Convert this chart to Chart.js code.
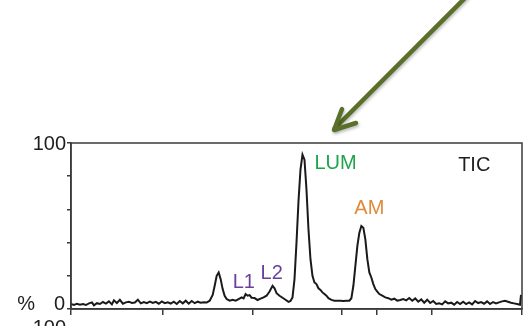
<!DOCTYPE html>
<html>
<head>
<meta charset="utf-8">
<script src="https://cdn.jsdelivr.net/npm/chart.js@4.4.1/dist/chart.umd.min.js"></script>
<style>
  body { margin: 0; background: #fff; }
</style>
</head>
<body>
<canvas id="tic" width="528" height="326"></canvas>
<script>
// retention axis (arbitrary units)
const rt = [
  0, 3, 6, 9, 12, 15, 18, 21, 23, 26, 29, 32, 35, 38, 41, 43, 46, 49, 52, 55,
  58, 61, 64, 67, 70, 73, 76, 79, 82, 85, 88, 91, 94, 97, 100, 103, 106, 109, 112, 115,
  118, 121, 124, 127, 130, 133, 136, 139, 142, 144, 146, 148, 150, 152, 154, 156, 159, 162, 165, 168,
  171, 173, 175, 177, 179, 181, 184, 187, 190, 193, 196, 199, 202, 204, 206, 209, 212, 215, 218, 220,
  222, 224, 226, 228, 230, 232, 234, 236, 238, 240, 242, 244, 246, 248, 250, 252, 254, 256, 258, 261,
  264, 267, 270, 273, 276, 279, 281, 283, 285, 287, 289, 291, 293, 295, 297, 299, 301, 303, 305, 307,
  309, 312, 315, 318, 321, 324, 327, 330, 333, 336, 339, 342, 345, 348, 351, 354, 357, 360, 363, 366,
  369, 372, 375, 378, 381, 384, 387, 390, 393, 396, 399, 402, 405, 408, 411, 414, 417, 420, 423, 426,
  429, 432, 435, 438, 441, 444, 447, 450, 451
]
// relative intensity, %
const intensity = [
  3.0, 2.5, 3.2, 2.6, 3.0, 2.4, 3.4, 4.0, 2.2, 3.5, 3.0, 4.2, 3.3, 4.6, 2.8, 5.2, 3.6, 5.5, 3.2, 4.0,
  4.4, 3.6, 3.9, 5.6, 3.4, 4.2, 3.5, 4.4, 3.6, 4.3, 3.2, 4.6, 3.5, 4.0, 3.3, 4.4, 3.0, 4.8, 3.4, 5.0,
  3.2, 4.8, 3.5, 4.4, 3.8, 4.0, 3.9, 5.0, 8.5, 14, 20, 22, 18, 12, 8, 6, 5.0, 5.6, 5.0, 6.0,
  7.0, 6.4, 9.0, 8.0, 8.4, 6.8, 6.6, 5.4, 6.2, 7.0, 8.0, 10.5, 14.0, 12.5, 9.5, 8.0, 6.8, 5.6, 4.3, 4.8,
  7.0, 18, 40, 65, 84, 93, 90, 72, 48, 30, 20, 16, 15, 12.5, 11.5, 10, 9, 8, 6.5, 5.5,
  5.0, 5.0, 5.0, 4.8, 5.0, 5.0, 6.5, 14, 26, 38, 46, 50, 49, 42, 30, 22, 19, 15, 12, 10.5,
  9, 8, 7, 6.5, 5.6, 6.2, 5.0, 5.4, 6.0, 5.2, 6.6, 5.0, 6.4, 4.4, 5.8, 3.8, 5.6, 3.6, 4.8, 3.0,
  3.4, 2.8, 4.6, 3.4, 3.8, 2.6, 4.2, 3.0, 4.4, 3.0, 4.0, 2.8, 4.8, 3.6, 4.2, 3.2, 4.6, 3.0, 4.2, 3.4,
  4.0, 4.6, 5.0, 4.4, 3.8, 3.4, 3.0, 2.6, 8.5
]
const xTicks = [0, 92, 182, 271, 306, 362, 452]
const yTickLabels = ['0', '100']
const peakNames = ['L1', 'L2', 'LUM', 'AM', 'TIC']

const points = rt.map((x, i) => ({ x: x, y: intensity[i] }))

const annotate = {
  id: 'annotate',
  afterDraw(chart) {
    const c = chart.ctx
    const a = chart.chartArea
    const xs = chart.scales.x
    const ys = chart.scales.y
    c.save()
    // frame
    c.strokeStyle = '#3a3a3a'
    c.lineWidth = 1.5
    c.strokeRect(a.left, a.top, a.right - a.left, a.bottom - a.top)

    c.font = '20px "Liberation Sans", Arial, sans-serif'
    c.textBaseline = 'middle'
    c.fillStyle = '#1e1e1e'
    c.textAlign = 'right'
    c.fillText(yTickLabels[1], a.left - 5, ys.getPixelForValue(100) + 1)
    c.fillText(yTickLabels[0], a.left - 6, ys.getPixelForValue(0) - 5)
    c.fillText('%', a.left - 36, ys.getPixelForValue(0) - 5)
    // next panel's label, cut off by the bottom edge
    c.textBaseline = 'top'
    c.fillText('100', a.left - 5, a.bottom + 9)

    // peak names
    c.textBaseline = 'middle'
    c.textAlign = 'left'
    const spots = [[162, 282, '#6b3f9e'], [190, 273, '#6b3f9e'], [244, 163, '#1ea54c'], [284, 208, '#e08a3b'], [388, 165, '#1e1e1e']]
    peakNames.forEach((n, i) => {
      c.fillStyle = spots[i][2]
      c.fillText(n, xs.getPixelForValue(spots[i][0]), spots[i][1])
    })

    // arrow
    c.strokeStyle = '#5a6f28'
    c.lineWidth = 4.5
    c.lineCap = 'round'
    c.lineJoin = 'round'
    c.shadowColor = 'rgba(0,0,0,0.25)'
    c.shadowBlur = 3
    c.shadowOffsetX = 1
    c.shadowOffsetY = 2
    c.beginPath()
    c.moveTo(466, -3)
    c.lineTo(335, 128)
    c.stroke()
    c.beginPath()
    c.moveTo(342, 109)
    c.lineTo(334, 130)
    c.lineTo(356, 123)
    c.stroke()
    c.restore()
  }
}

new Chart(document.getElementById('tic'), {
  type: 'line',
  data: {
    datasets: [{
      label: 'TIC',
      data: points,
      borderColor: '#1a1a1a',
      borderWidth: 2,
      pointRadius: 0,
      tension: 0
    }]
  },
  options: {
    responsive: false,
    animation: false,
    devicePixelRatio: 1,
    layout: { padding: { left: 67, right: 6, top: 143, bottom: 11 } },
    plugins: { legend: { display: false }, tooltip: { enabled: false } },
    scales: {
      x: {
        type: 'linear',
        min: 0,
        max: 452,
        afterBuildTicks: s => { s.ticks = xTicks.map(v => ({ value: v })) },
        ticks: { display: false },
        grid: { drawOnChartArea: false, tickLength: 6, color: '#3a3a3a', lineWidth: 1.5 },
        border: { color: '#3a3a3a', width: 1.5 }
      },
      y: {
        min: 0,
        max: 100,
        ticks: { display: false, stepSize: 20 },
        grid: { drawOnChartArea: false, tickLength: 4, color: '#3a3a3a', lineWidth: 1.5 },
        border: { color: '#3a3a3a', width: 1.5 }
      }
    }
  },
  plugins: [annotate]
})
</script>
</body>
</html>
